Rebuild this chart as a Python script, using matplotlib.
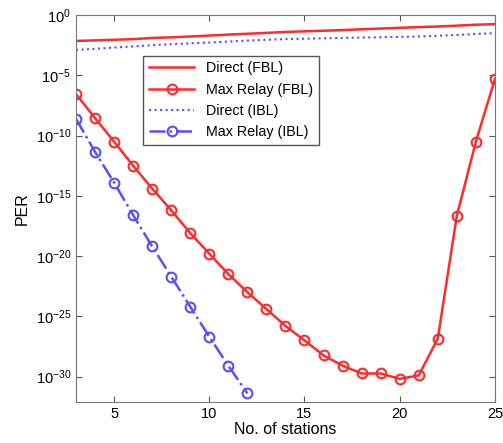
import numpy as np
import matplotlib.pyplot as plt
from matplotlib.ticker import FixedLocator, NullLocator

plt.rcParams['font.family'] = ['Liberation Sans', 'DejaVu Sans']

stations = list(range(3, 26))
# log10 of PER
direct_fbl = [-2.15, -2.1, -2.05, -2.0, -1.9, -1.85, -1.78, -1.7, -1.62, -1.55, -1.48, -1.4,
              -1.35, -1.3, -1.25, -1.18, -1.12, -1.06, -1.0, -0.95, -0.88, -0.8, -0.75]
direct_ibl = [-2.9, -2.8, -2.7, -2.6, -2.5, -2.42, -2.35, -2.28, -2.2, -2.12, -2.05, -2.0,
              -1.96, -1.93, -1.9, -1.87, -1.84, -1.81, -1.78, -1.72, -1.65, -1.57, -1.5]
relay_fbl = [-6.55, -8.55, -10.5, -12.5, -14.4, -16.2, -18.1, -19.8, -21.5, -23.0, -24.4,
             -25.8, -27.0, -28.25, -29.1, -29.75, -29.75, -30.2, -29.9, -26.85, -16.65,
             -10.5, -5.3]
stations_ibl = list(range(3, 13))
relay_ibl = [-8.6, -11.35, -13.9, -16.6, -19.2, -21.7, -24.2, -26.7, -29.1, -31.4]

red = '#ff2a2a'
blue = '#5a4dff'

fig = plt.figure(figsize=(5.03, 4.43), dpi=100)
ax = fig.add_axes([0.151, 0.093, 0.833, 0.873])

ax.semilogy(stations, 10.0 ** np.array(direct_fbl), color=red, lw=1.8, label='Direct (FBL)')
ax.semilogy(stations, 10.0 ** np.array(relay_fbl), color=red, lw=1.8, marker='o', ms=7,
            mfc='none', mew=1.5, label='Max Relay (FBL)')
ax.semilogy(stations, 10.0 ** np.array(direct_ibl), color=blue, lw=1.5, ls=':',
            label='Direct (IBL)')
ax.semilogy(stations_ibl, 10.0 ** np.array(relay_ibl), color=blue, lw=1.8, ls='-.',
            marker='o', ms=7, mfc='none', mew=1.5, label='Max Relay (IBL)')

ax.set_xlim(3, 25)
ax.set_ylim(10 ** -32.1, 1)
ax.set_xticks([5, 10, 15, 20, 25])
ax.yaxis.set_major_locator(FixedLocator([10.0 ** -k for k in range(0, 31, 5)]))
ax.yaxis.set_minor_locator(NullLocator())
ax.tick_params(direction='in', top=True, right=True, labelsize=10.5, length=4,
               color='#555555')
for s in ax.spines.values():
    s.set_color('#777777')

ax.set_xlabel('No. of stations', fontsize=11.5, labelpad=1)
ax.set_ylabel('PER', fontsize=11.5)

leg = ax.legend(loc='upper left', bbox_to_anchor=(0.16, 0.895), fontsize=10.3,
                fancybox=False, framealpha=1, edgecolor='#555555',
                handlelength=3.2, borderaxespad=0, labelspacing=0.5)
leg.get_frame().set_linewidth(1.0)

fig.savefig('out.png', dpi=100)
